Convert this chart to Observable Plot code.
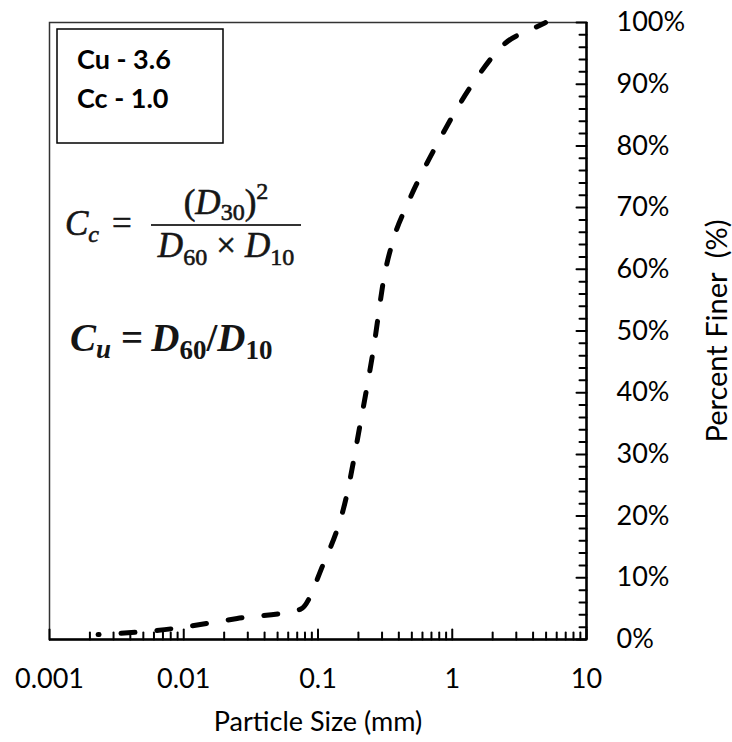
<!DOCTYPE html>
<html>
<head>
<meta charset="utf-8">
<script src="https://cdn.jsdelivr.net/npm/d3@7"></script>
<script src="https://cdn.jsdelivr.net/npm/@observablehq/plot@0.6"></script>
<style>
  html, body { margin: 0; padding: 0; background: #fff; }
  #chart svg { display: block; }
</style>
</head>
<body>
<div id="chart"></div>
<script>
// Grain-size distribution: percent finer by particle size (mm)
const particleSizeMM = [0.0023, 0.0072, 0.025, 0.074, 0.108, 0.163, 0.207, 0.259, 0.313, 0.365, 0.464, 0.611, 0.817, 1.13, 1.6, 2.41, 4.17, 4.95];
const percentFiner   = [0.8,    1.6,    3.4,   4.9,   11.9,  23.2,  35.1,  47.1,  59.1,  64.9,  70.6,  76.1,  81.3,  86.7, 91.7, 96.4, 99.2, 100];

// Gradation coefficients shown in the box
const uniformityCoefficient = 3.6; // Cu
const curvatureCoefficient = 1.0;  // Cc

// Axis ticks
const xTickValues = [0.001, 0.01, 0.1, 1, 10];
const yTickValues = [0, 10, 20, 30, 40, 50, 60, 70, 80, 90, 100];

const gradation = particleSizeMM.map((size, i) => ({size, finer: percentFiner[i]}));
const xMinorTicks = xTickValues.slice(0, -1).flatMap(d => d3.range(2, 10).map(k => +(k * d).toPrecision(3)));
const yMinorTicks = d3.range(0, 101, 2).filter(v => v % 10 !== 0);

const W = 732, H = 742;
const M = {top: 22, right: 146, bottom: 103, left: 49};
const sans = "Lato, 'Open Sans', sans-serif";
const serif = "'Liberation Serif', 'Times New Roman', serif";

// a straight tick drawn from the anchor point "upward" (before rotation)
const tickShape = {draw(context, l) { context.moveTo(0, 0); context.lineTo(0, -l); }};
const inwardX = (values, len) => Plot.vector(values, {x: d => d, y: 0, length: len, anchor: "start", shape: tickShape, stroke: "#000", strokeWidth: 2});
const inwardY = (values, len) => Plot.vector(values, {x: 10, y: d => d, rotate: -90, length: len, anchor: "start", shape: tickShape, stroke: "#000", strokeWidth: 2});

const chart = Plot.plot({
  width: W,
  height: H,
  marginTop: M.top,
  marginRight: M.right,
  marginBottom: M.bottom,
  marginLeft: M.left,
  style: {fontFamily: sans, fontSize: "27px", color: "#000", background: "#fff", overflow: "visible"},
  x: {type: "log", domain: [0.001, 10], label: null},
  y: {domain: [0, 100], label: null},
  marks: [
    Plot.frame({stroke: "#333", strokeWidth: 1.5}),
    inwardX(xMinorTicks, 7),
    inwardX(xTickValues, 10),
    inwardY(yMinorTicks, 7),
    inwardY(yTickValues, 10),
    Plot.axisX(xTickValues, {anchor: "bottom", tickSize: 0, tickPadding: 29, tickFormat: d => String(d), label: null}),
    Plot.axisY(yTickValues, {anchor: "right", tickSize: 0, tickPadding: 30, tickFormat: d => d + "%", label: null}),
    Plot.ruleY([0], {strokeWidth: 2.5}),
    Plot.ruleX([10], {strokeWidth: 2.5}),
    Plot.line(gradation, {
      x: "size", y: "finer",
      stroke: "#000", strokeWidth: 5,
      strokeDasharray: "14,22", strokeDashoffset: 13, strokeLinecap: "round",
      curve: "monotone-x"
    }),
    Plot.text(["Particle Size (mm)"], {text: d => d, frameAnchor: "bottom", textAnchor: "middle", lineAnchor: "middle", dy: 83}),
    Plot.text(["Percent Finer  (%)"], {text: d => d, frameAnchor: "right", textAnchor: "middle", lineAnchor: "middle", dx: 131, rotate: -90, fontSize: 29})
  ]
});

document.getElementById("chart").append(chart);

const svg = d3.select(chart);

// Coefficient box
const box = svg.append("g").attr("font-family", sans).attr("font-weight", "bold")
  .attr("font-size", 27).attr("fill", "#000").attr("text-anchor", "start");
box.append("rect")
  .attr("x", M.left + 8).attr("y", M.top + 7)
  .attr("width", 166).attr("height", 114)
  .attr("fill", "#fff").attr("stroke", "#000").attr("stroke-width", 1.5);
box.append("text").attr("x", M.left + 28).attr("y", M.top + 47)
  .text(`Cu - ${uniformityCoefficient.toFixed(1)}`);
box.append("text").attr("x", M.left + 28).attr("y", M.top + 85.5)
  .text(`Cc - ${curvatureCoefficient.toFixed(1)}`);

// Coefficient of curvature formula
const cc = svg.append("g").attr("font-family", serif).attr("fill", "#151515")
  .attr("stroke", "#151515").attr("stroke-width", 0.6).attr("font-size", 35);
cc.append("text").attr("x", M.left + 16).attr("y", 235).attr("text-anchor", "start").call(t => {
  t.append("tspan").attr("font-style", "italic").text("C");
  t.append("tspan").attr("font-style", "italic").attr("font-size", 24).attr("dy", 7).text("c");
  t.append("tspan").attr("dy", -7).attr("dx", 13).text("=");
});
cc.append("text").attr("x", 226).attr("y", 214).attr("text-anchor", "middle").call(t => {
  t.append("tspan").text("(");
  t.append("tspan").attr("font-style", "italic").text("D");
  t.append("tspan").attr("font-size", 24).attr("dy", 6).text("30");
  t.append("tspan").attr("dy", -6).text(")");
  t.append("tspan").attr("font-size", 24).attr("dy", -15).text("2");
});
cc.append("line").attr("x1", 151).attr("x2", 301).attr("y1", 225).attr("y2", 225)
  .attr("stroke", "#333").attr("stroke-width", 1.8);
cc.append("text").attr("x", 226).attr("y", 257).attr("text-anchor", "middle").call(t => {
  t.append("tspan").attr("font-style", "italic").text("D");
  t.append("tspan").attr("font-size", 24).attr("dy", 8).text("60");
  t.append("tspan").attr("dy", -8).attr("dx", 9).text("\u00d7");
  t.append("tspan").attr("dx", 9).attr("font-style", "italic").text("D");
  t.append("tspan").attr("font-size", 24).attr("dy", 8).text("10");
});

// Coefficient of uniformity formula
const cu = svg.append("g").attr("font-family", serif).attr("font-weight", "bold")
  .attr("fill", "#151515").attr("font-size", 39);
cu.append("text").attr("x", M.left + 21).attr("y", 351).attr("text-anchor", "start").call(t => {
  t.append("tspan").attr("font-style", "italic").text("C");
  t.append("tspan").attr("font-style", "italic").attr("font-size", 27).attr("dy", 7).text("u");
  t.append("tspan").attr("dy", -7).attr("dx", 10).text("=");
  t.append("tspan").attr("dx", 8).attr("font-style", "italic").text("D");
  t.append("tspan").attr("font-size", 27).attr("dy", 8).text("60");
  t.append("tspan").attr("dy", -8).text("/");
  t.append("tspan").attr("font-style", "italic").text("D");
  t.append("tspan").attr("font-size", 27).attr("dy", 8).text("10");
});
</script>
</body>
</html>
